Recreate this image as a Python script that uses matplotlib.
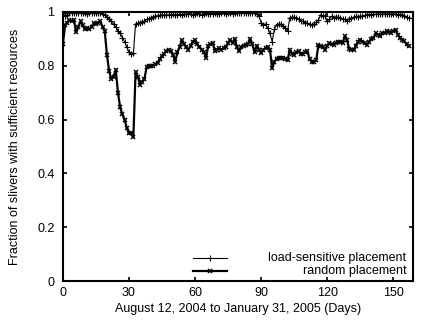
import matplotlib
matplotlib.use("Agg")
import matplotlib.pyplot as plt
from matplotlib.lines import Line2D

plt.rcParams['font.family'] = ['Liberation Sans', 'DejaVu Sans']

# days since Aug 12, 2004
days = list(range(158))

# fraction of slivers with sufficient resources, load-sensitive placement
load_sensitive = [
    0.995, 0.985, 0.990, 0.995, 0.997, 0.995, 0.997, 0.995, 0.997, 0.996,
    0.995, 0.994, 0.996, 0.995, 0.997, 0.996, 0.997, 0.996, 0.993, 0.990,
    0.983, 0.975, 0.965, 0.955, 0.945, 0.930, 0.920, 0.905, 0.890, 0.870,
    0.850, 0.845, 0.846, 0.955, 0.958, 0.960, 0.962, 0.966, 0.972, 0.975,
    0.978, 0.982, 0.985, 0.986, 0.988, 0.989, 0.988, 0.990, 0.989, 0.990,
    0.991, 0.988, 0.990, 0.992, 0.990, 0.993, 0.991, 0.994, 0.993, 0.990,
    0.994, 0.995, 0.993, 0.990, 0.993, 0.995, 0.994, 0.992, 0.994, 0.995,
    0.993, 0.994, 0.996, 0.995, 0.993, 0.995, 0.996, 0.994, 0.995, 0.996,
    0.997, 0.995, 0.996, 0.997, 0.996, 0.997, 0.995, 0.996, 0.993, 0.985,
    0.960, 0.950, 0.955, 0.940, 0.920, 0.890, 0.935, 0.953, 0.955, 0.955,
    0.947, 0.940, 0.928, 0.978, 0.982, 0.980, 0.978, 0.975, 0.967, 0.965,
    0.960, 0.958, 0.954, 0.952, 0.956, 0.962, 0.970, 0.990, 0.985, 0.984,
    0.966, 0.975, 0.984, 0.978, 0.980, 0.981, 0.978, 0.975, 0.972, 0.966,
    0.975, 0.978, 0.980, 0.984, 0.983, 0.985, 0.984, 0.987, 0.990, 0.991,
    0.990, 0.992, 0.991, 0.993, 0.992, 0.991, 0.993, 0.992, 0.994, 0.991,
    0.992, 0.993, 0.990, 0.991, 0.988, 0.984, 0.980, 0.977,
]

# fraction of slivers with sufficient resources, random placement
random_placement = [
    0.880, 0.950, 0.960, 0.970, 0.965, 0.970, 0.925, 0.945, 0.965, 0.950,
    0.935, 0.940, 0.935, 0.945, 0.958, 0.955, 0.960, 0.965, 0.945, 0.930,
    0.840, 0.780, 0.750, 0.760, 0.785, 0.700, 0.645, 0.620, 0.600, 0.570,
    0.550, 0.550, 0.535, 0.775, 0.760, 0.730, 0.740, 0.750, 0.795, 0.800,
    0.800, 0.800, 0.805, 0.810, 0.825, 0.835, 0.845, 0.855, 0.860, 0.855,
    0.840, 0.815, 0.850, 0.870, 0.895, 0.880, 0.870, 0.860, 0.875, 0.890,
    0.895, 0.880, 0.870, 0.860, 0.850, 0.830, 0.875, 0.880, 0.885, 0.855,
    0.860, 0.865, 0.860, 0.865, 0.870, 0.885, 0.895, 0.885, 0.900, 0.870,
    0.855, 0.870, 0.875, 0.877, 0.880, 0.900, 0.880, 0.850, 0.875, 0.860,
    0.848, 0.860, 0.866, 0.870, 0.860, 0.790, 0.815, 0.825, 0.830, 0.828,
    0.830, 0.825, 0.820, 0.860, 0.845, 0.840, 0.850, 0.855, 0.842, 0.845,
    0.850, 0.855, 0.825, 0.815, 0.815, 0.820, 0.878, 0.872, 0.870, 0.860,
    0.875, 0.885, 0.880, 0.878, 0.885, 0.890, 0.890, 0.885, 0.910, 0.895,
    0.862, 0.860, 0.860, 0.875, 0.890, 0.897, 0.890, 0.885, 0.878, 0.888,
    0.900, 0.903, 0.920, 0.915, 0.910, 0.920, 0.922, 0.928, 0.925, 0.922,
    0.930, 0.934, 0.916, 0.905, 0.897, 0.891, 0.880, 0.872,
]

xticks = [0, 30, 60, 90, 120, 150]
yticks = [0, 0.2, 0.4, 0.6, 0.8, 1]
ytick_labels = ['0', '0.2', '0.4', '0.6', '0.8', '1']

fig = plt.figure(figsize=(4.22, 3.23), dpi=100)
ax = fig.add_axes([0.149, 0.130, 0.830, 0.833])

ax.plot(days, load_sensitive, color='black', lw=0.8, marker='+',
        markersize=4, markeredgewidth=0.8)
ax.plot(days, random_placement, color='black', lw=1.6, marker='x',
        markersize=3.5, markeredgewidth=1.1)

ax.set_xlim(0, 159)
ax.set_ylim(0, 1)
ax.set_xticks(xticks)
ax.set_yticks(yticks)
ax.set_yticklabels(ytick_labels)
ax.tick_params(direction='in', length=3, width=1.2, labelsize=9,
               top=True, right=True)
ax.tick_params(axis='y', pad=6)
ax.tick_params(axis='x', pad=4)
for s in ax.spines.values():
    s.set_linewidth(1.5)

ax.set_xlabel('August 12, 2004 to January 31, 2005 (Days)', fontsize=9,
              labelpad=3)
ax.set_ylabel('Fraction of slivers with sufficient resources', fontsize=9,
              labelpad=12)

# legend drawn by hand: sample left, text right-aligned
ax.add_line(Line2D([0.371, 0.469], [0.0855, 0.0855], transform=ax.transAxes,
                   color='black', lw=0.8))
ax.plot([0.42], [0.0855], transform=ax.transAxes, color='black', marker='+',
        markersize=4, markeredgewidth=0.8)
ax.text(0.98, 0.0855, 'load-sensitive placement', transform=ax.transAxes,
        ha='right', va='center', fontsize=9)
ax.add_line(Line2D([0.371, 0.469], [0.037, 0.037], transform=ax.transAxes,
                   color='black', lw=1.6))
ax.plot([0.42], [0.037], transform=ax.transAxes, color='black', marker='x',
        markersize=3.5, markeredgewidth=1.1)
ax.text(0.98, 0.037, 'random placement', transform=ax.transAxes,
        ha='right', va='center', fontsize=9)

fig.savefig('out.png', dpi=100)
